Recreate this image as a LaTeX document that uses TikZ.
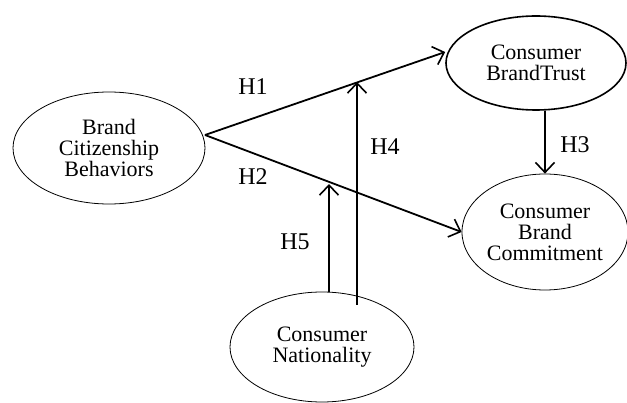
\documentclass[tikz,border=0pt]{standalone}
\usepackage{fontspec}
\setmainfont{Liberation Serif}
\usetikzlibrary{calc, positioning, shapes.geometric, arrows.meta}

\tikzset{
	construct/.style={draw, ellipse, line width=0.8pt, align=center, inner sep=0pt,
		font=\fontsize{22}{21}\selectfont},
	path/.style={line width=1.8pt, -{Straight Barb[length=10pt, width=19pt, line width=1.6pt]}},
	hyp/.style={font=\fontsize{24}{26}\selectfont}
}

\begin{document}
\begin{tikzpicture}[x=1pt, y=1pt]
	\useasboundingbox (0,0) rectangle (627,402);
	
	\node[construct, minimum width=192pt, minimum height=112pt] (bcb) at (109,254) {Brand\\Citizenship\\Behaviors};
	\node[construct, line width=1.6pt, minimum width=180pt, minimum height=94pt] (trust) at (536,339) {Consumer\\BrandTrust};
	\node[construct, minimum width=166pt, minimum height=116pt] (commit) at (545,170) {Consumer\\Brand\\Commitment};
	\node[construct, minimum width=184pt, minimum height=110pt] (nation) at (322,55) {Consumer\\Nationality};
	
	\coordinate (fork) at (205,267);
	\coordinate (h1point) at (357,320);
	\coordinate (h2point) at (329,218);
	
	\draw[path] (fork) -- ([yshift=11pt]trust.west);
	\draw[path] (fork) -- (commit.west);
	\draw[path] (commit.north |- trust.south) -- (commit.north);
	\draw[path] ([xshift=35pt, yshift=-13pt]nation.north) -- (h1point);
	\draw[path] ([xshift=7pt]nation.north) -- (h2point);
	
	\node[hyp] at (253,315) {H1};
	\node[hyp] at (253,225) {H2};
	\node[hyp] at (575,257) {H3};
	\node[hyp] at (385,255) {H4};
	\node[hyp] at (295,160) {H5};
\end{tikzpicture}
\end{document}
